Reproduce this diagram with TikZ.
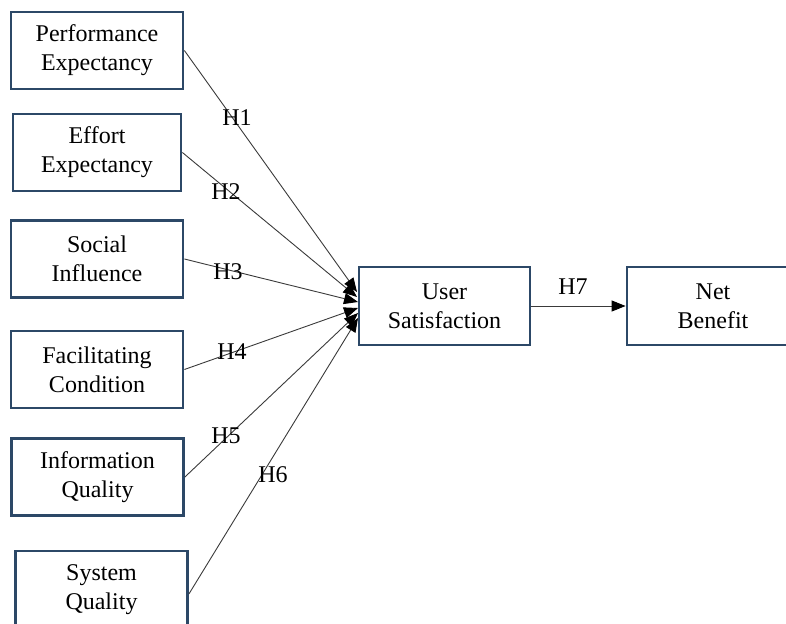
\documentclass[tikz,border=0pt]{standalone}
\usepackage{fontspec}
\setmainfont{Liberation Serif}
\usetikzlibrary{arrows.meta}
\definecolor{boxblue}{HTML}{2C4867}
\definecolor{linegray}{HTML}{3A3A3A}
\tikzset{
  varbox/.style={draw=boxblue, line width=2.8pt, fill=white, align=center,
    minimum width=172pt, minimum height=77pt, inner sep=0pt,
    font=\fontsize{24}{29}\selectfont},
  link/.style={draw=linegray, line width=0.9pt, -{Triangle[length=14pt,width=11pt,color=black]}},
  hlabel/.style={font=\fontsize{24}{27}\selectfont, inner sep=0pt}
}
\begin{document}
\begin{tikzpicture}[x=1pt,y=-1pt]
\useasboundingbox (0,0) rectangle (786,623);
\node[varbox] (pe) at (97,50.5) {Performance\\Expectancy};
\node[varbox, minimum width=168pt] (ee) at (97,152.5) {Effort\\Expectancy};
\node[varbox] (si) at (97,259) {Social\\Influence};
\node[varbox] (fc) at (97,369.5) {Facilitating\\Condition};
\node[varbox] (iq) at (97.5,477) {Information\\Quality};
\node[varbox, minimum height=78pt] (sq) at (101.5,590) {System\\Quality};
\node[varbox, minimum width=171pt, minimum height=78pt] (us) at (444.5,306) {User\\Satisfaction};
\node[varbox, minimum height=78pt] (nb) at (713,306) {Net\\Benefit};
\coordinate (t1) at (357,292);
\coordinate (t2) at (357,297);
\coordinate (t3) at (358,302);
\coordinate (t4) at (358,308);
\coordinate (t5) at (358,313);
\coordinate (t6) at (358,318);
\draw[link] (pe.east) -- (t1);
\draw[link] (ee.east) -- (t2);
\draw[link] (si.east) -- (t3);
\draw[link] (fc.east) -- (t4);
\draw[link] (iq.east) -- (t5);
\draw[link] ([yshift=-4pt]sq.east) -- (t6);
\draw[link] (us.east) -- (nb.west);
\node[hlabel] (h1) at (237,118) {H1};
\node[hlabel] (h2) at (226,192) {H2};
\node[hlabel] (h3) at (228,272) {H3};
\node[hlabel] (h4) at (232,352) {H4};
\node[hlabel] (h5) at (226,436) {H5};
\node[hlabel] (h6) at (273,475) {H6};
\node[hlabel] (h7) at (573,287) {H7};
\end{tikzpicture}
\end{document}
